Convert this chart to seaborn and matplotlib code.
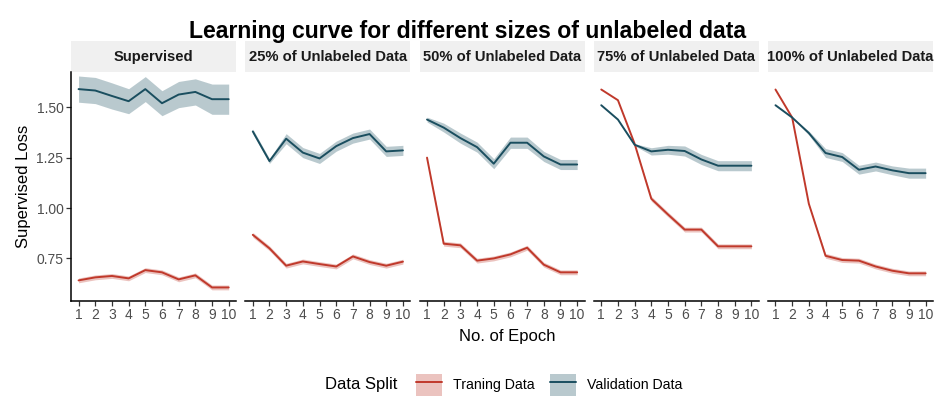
import matplotlib
matplotlib.use("Agg")
import matplotlib.pyplot as plt
from matplotlib.patches import Rectangle, Patch
from matplotlib.lines import Line2D
from matplotlib.legend_handler import HandlerTuple
import seaborn as sns
import pandas as pd

# ---- data ----
epochs = list(range(1, 11))
panels = ["Supervised", "25% of Unlabeled Data", "50% of Unlabeled Data",
          "75% of Unlabeled Data", "100% of Unlabeled Data"]

train_loss = [
    [0.641, 0.656, 0.663, 0.651, 0.692, 0.681, 0.646, 0.666, 0.606, 0.606],
    [0.867, 0.800, 0.714, 0.735, 0.722, 0.710, 0.760, 0.732, 0.714, 0.734],
    [1.250, 0.823, 0.815, 0.739, 0.750, 0.770, 0.803, 0.719, 0.681, 0.681],
    [1.588, 1.535, 1.319, 1.046, 0.968, 0.893, 0.893, 0.810, 0.810, 0.810],
    [1.588, 1.449, 1.021, 0.763, 0.742, 0.739, 0.710, 0.689, 0.676, 0.676],
]
train_band = [
    [0.012] * 10,
    [0.012] * 10,
    [0.0] + [0.012] * 9,
    [0.0, 0.0, 0.0] + [0.012] * 7,
    [0.0, 0.0, 0.0] + [0.012] * 7,
]
val_loss = [
    [1.590, 1.583, 1.556, 1.530, 1.590, 1.520, 1.563, 1.576, 1.540, 1.540],
    [1.380, 1.233, 1.344, 1.275, 1.246, 1.307, 1.347, 1.367, 1.281, 1.286],
    [1.439, 1.399, 1.347, 1.302, 1.220, 1.324, 1.324, 1.256, 1.216, 1.216],
    [1.510, 1.439, 1.314, 1.281, 1.289, 1.283, 1.241, 1.210, 1.210, 1.210],
    [1.510, 1.449, 1.372, 1.273, 1.253, 1.190, 1.206, 1.187, 1.173, 1.173],
]
val_band = [
    [0.065, 0.065, 0.065, 0.062, 0.062, 0.062, 0.065, 0.065, 0.075, 0.075],
    [0.012, 0.012, 0.025, 0.025, 0.025, 0.025, 0.025, 0.025, 0.025, 0.025],
    [0.012, 0.022, 0.025, 0.025, 0.025, 0.028, 0.028, 0.025, 0.025, 0.025],
    [0.0, 0.0, 0.005, 0.018, 0.022, 0.025, 0.025, 0.025, 0.025, 0.025],
    [0.0, 0.0, 0.010, 0.022, 0.022, 0.022, 0.022, 0.022, 0.025, 0.025],
]
splits = ["Traning Data", "Validation Data"]
colors = {"Traning Data": "#C0392B", "Validation Data": "#1A4E5F"}

rows = []
for i, p in enumerate(panels):
    for j, e in enumerate(epochs):
        rows.append((p, e, "Traning Data", train_loss[i][j], train_band[i][j]))
        rows.append((p, e, "Validation Data", val_loss[i][j], val_band[i][j]))
df = pd.DataFrame(rows, columns=["panel", "epoch", "split", "loss", "band"])

sns.set_theme(style="ticks")
plt.rcParams["font.family"] = ["Liberation Sans", "DejaVu Sans"]
plt.rcParams["text.color"] = "black"

fig, axes = plt.subplots(1, 5, figsize=(9.35, 4.01), dpi=100, sharey=True)
fig.subplots_adjust(left=0.076, right=0.998, top=0.820, bottom=0.250, wspace=0.055)

for ax, p in zip(axes, panels):
    sub = df[df["panel"] == p]
    for s in splits:
        d = sub[sub["split"] == s]
        ax.fill_between(d["epoch"], d["loss"] - d["band"], d["loss"] + d["band"],
                        color=colors[s], alpha=0.3, linewidth=0)
    sns.lineplot(data=sub, x="epoch", y="loss", hue="split", palette=colors,
                 hue_order=splits, ax=ax, linewidth=1.4, legend=False)
    ax.set_xlim(0.55, 10.45)
    ax.set_ylim(0.54, 1.674)
    ax.set_xticks(epochs)
    ax.set_yticks([0.75, 1.00, 1.25, 1.50])
    ax.set_yticklabels(["0.75", "1.00", "1.25", "1.50"])
    ax.set_xlabel("")
    ax.set_ylabel("")
    ax.tick_params(axis="both", labelsize=10, colors="#333333", length=3.5,
                   width=0.9, pad=2, labelcolor="#4d4d4d")
    for side in ["top", "right"]:
        ax.spines[side].set_visible(False)
    ax.spines["bottom"].set_color("black")
    ax.spines["bottom"].set_linewidth(1.1)
    if ax is not axes[0]:
        ax.spines["left"].set_visible(False)
        ax.tick_params(axis="y", left=False)
    else:
        ax.spines["left"].set_color("black")
        ax.spines["left"].set_linewidth(1.1)
    # facet strip
    ax.add_patch(Rectangle((0, 1.0), 1, 0.135, transform=ax.transAxes,
                           facecolor="#F0F0F0", edgecolor="none", clip_on=False))
    ax.text(0.5, 1.0675, p, transform=ax.transAxes, ha="center", va="center",
            fontsize=10.6, fontweight="bold", color="#1a1a1a")

axes[0].set_ylabel("Supervised Loss", fontsize=12, labelpad=4, color="black")
fig.text(0.543, 0.162, "No. of Epoch", ha="center", va="center", fontsize=12,
         color="black")
fig.suptitle("Learning curve for different sizes of unlabeled data",
             x=0.5, y=0.95, fontsize=16.6, fontweight="bold", color="black")

# legend at the bottom, title on the left like ggplot
fig.text(325 / 935, 1 - 385 / 401, "Data Split", ha="left", va="center",
         fontsize=12, color="black")
handles = []
for s in splits:
    handles.append((Patch(facecolor=colors[s], alpha=0.3, edgecolor="none"),
                    Line2D([0], [0], color=colors[s], linewidth=1.4)))
fig.legend(handles, splits, loc="center left",
           bbox_to_anchor=(409 / 935, 1 - 385 / 401),
           ncol=2, frameon=False, fontsize=10.2, labelcolor="black",
           handlelength=1.8, handleheight=2.0,
           columnspacing=1.1, handletextpad=0.8, borderpad=0,
           handler_map={tuple: HandlerTuple(ndivide=1, pad=0)})

fig.savefig("out.png", dpi=100)
